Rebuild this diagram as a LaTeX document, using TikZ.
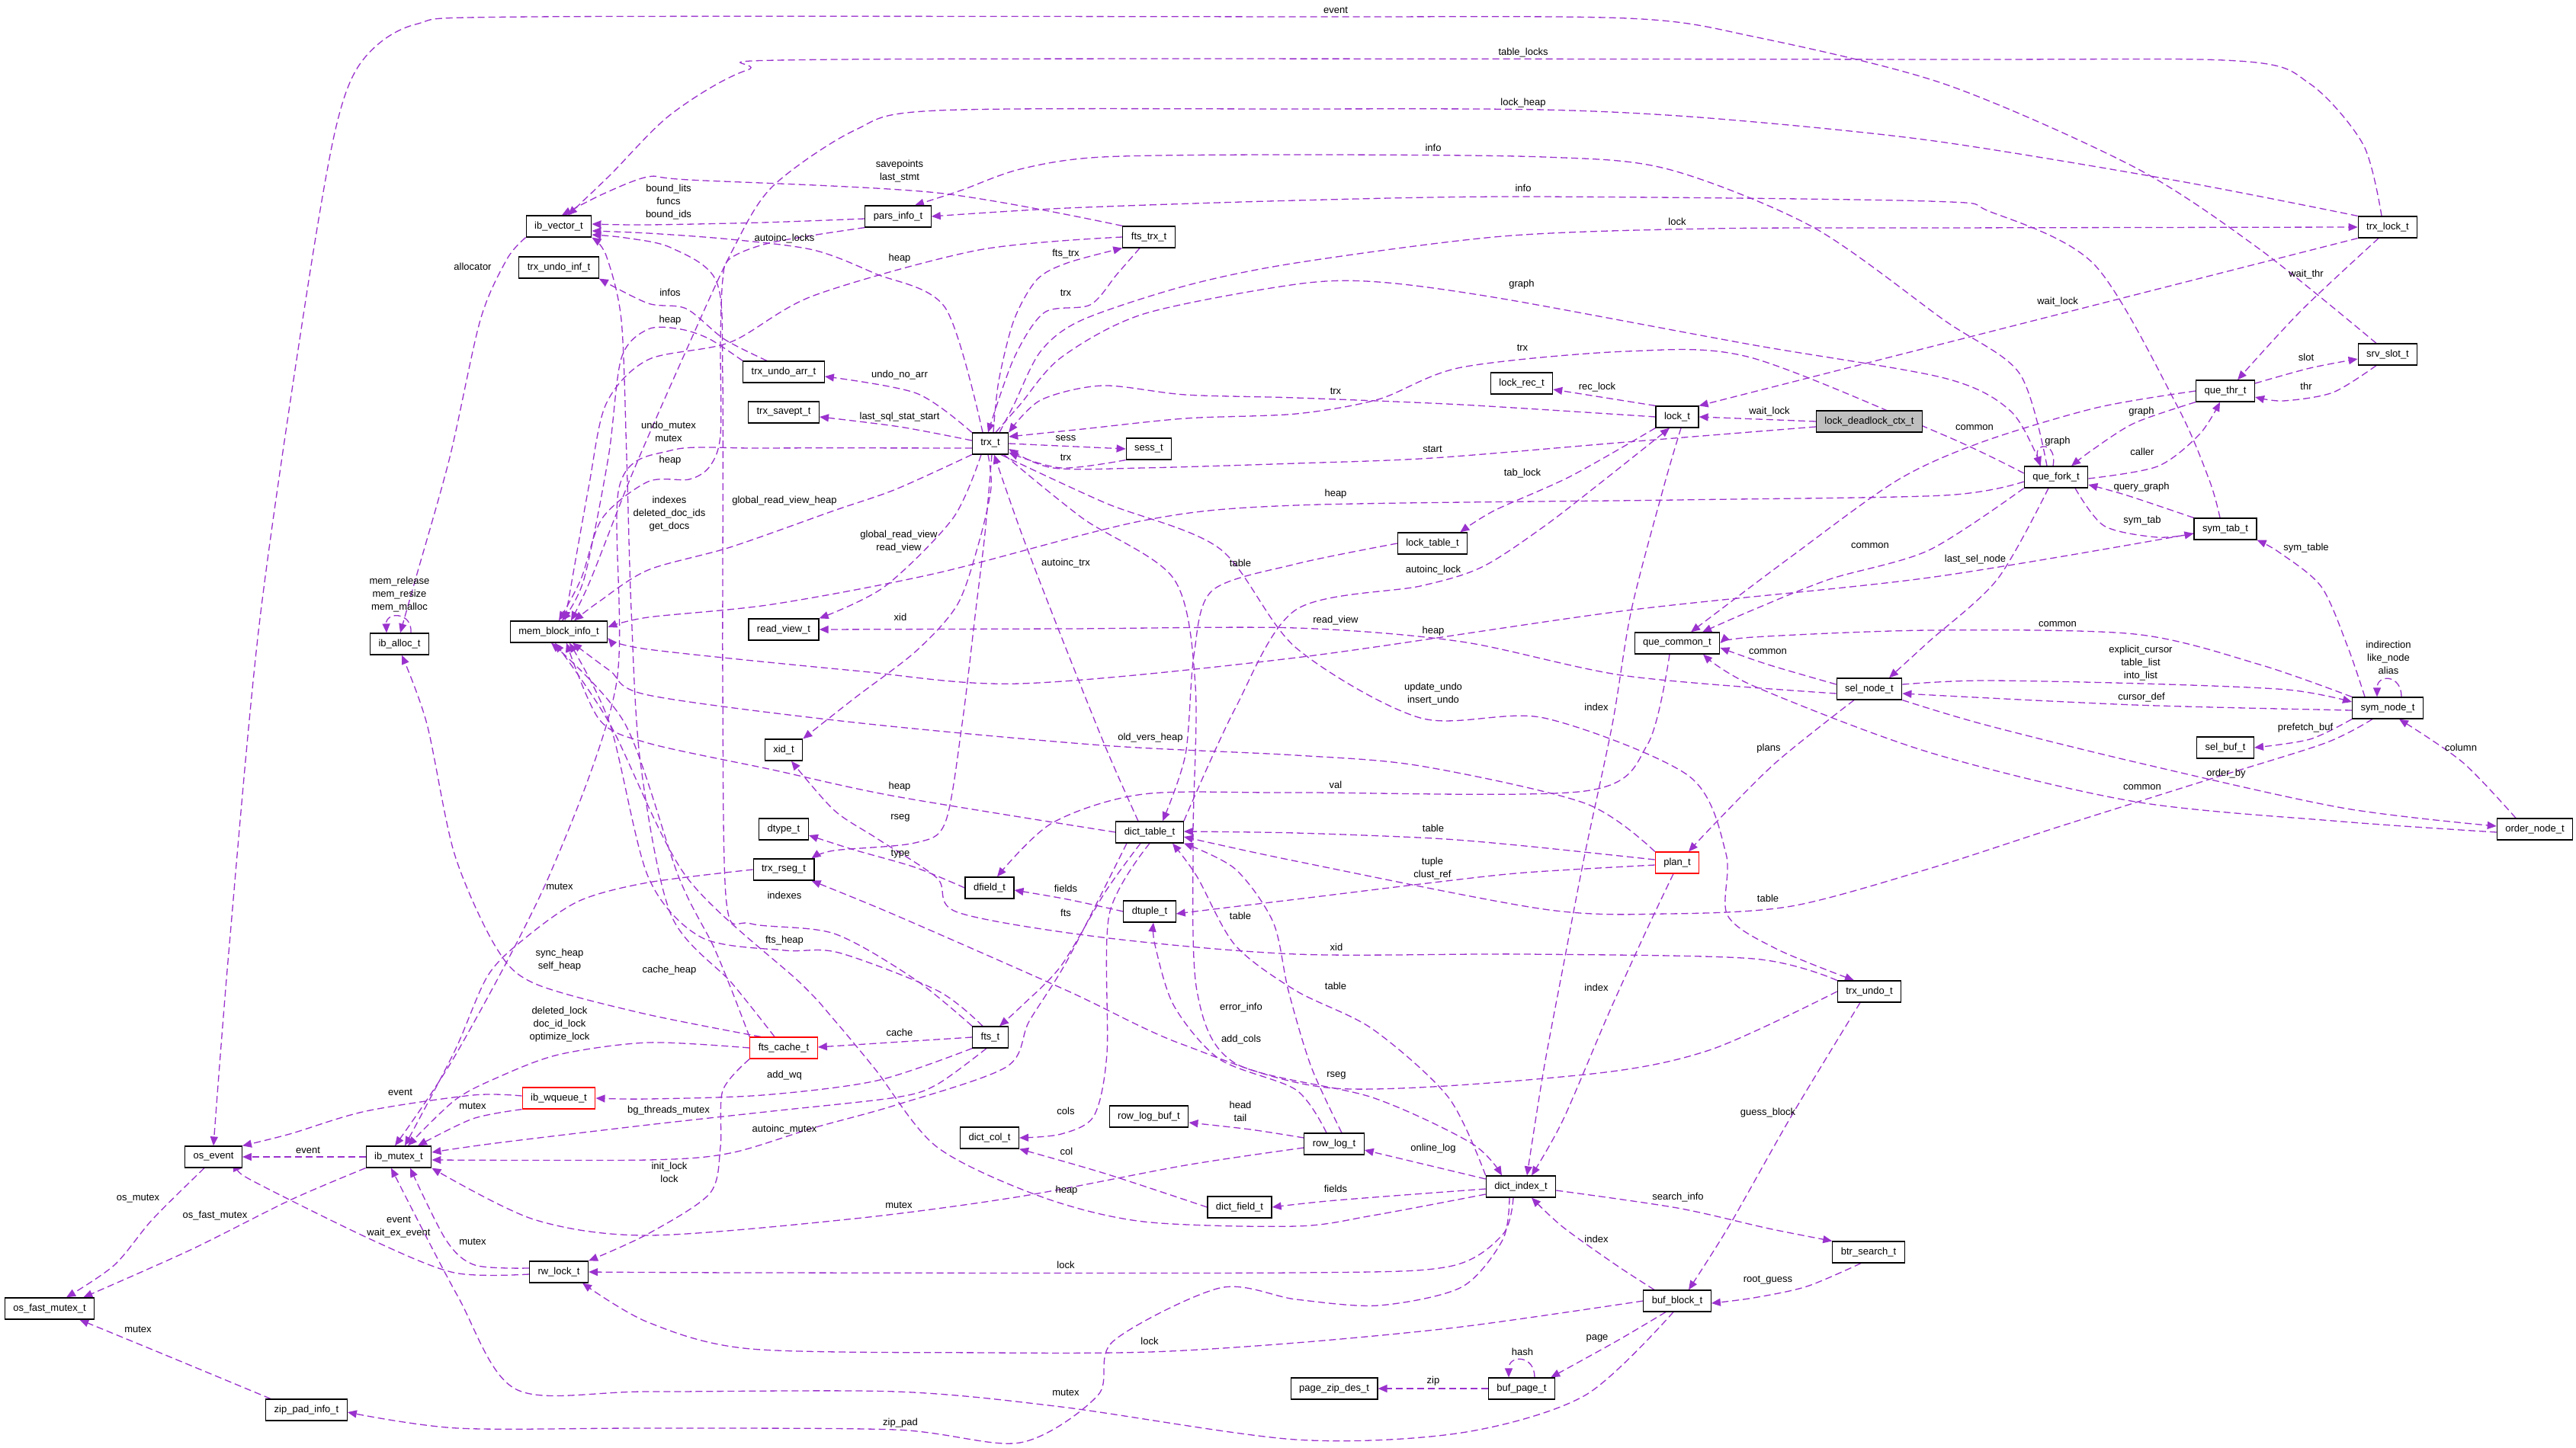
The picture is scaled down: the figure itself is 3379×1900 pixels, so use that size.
\documentclass[tikz,border=0pt]{standalone}
\usepackage{fontspec}
\setmainfont{Liberation Sans}
\usetikzlibrary{arrows.meta}
\definecolor{ep}{HTML}{9A32CD}
\newcommand\dfont{\fontsize{13pt}{17pt}\selectfont}
\pgfdeclarelayer{bg}
\pgfsetlayers{bg,main}
\begin{document}
\begin{tikzpicture}[x=1pt,y=-1pt,
  box/.style={draw=black, line width=1.2pt, fill=white, inner xsep=11pt, inner ysep=0pt, minimum height=28pt, font=\dfont},
  redbox/.style={box, draw=red},
  graybox/.style={box, fill=black!25},
  lbl/.style={font=\dfont, inner sep=0pt, align=center},
  e/.style={draw=ep, line width=1.3pt, dash pattern=on 9pt off 5pt, -{Triangle[length=12pt,width=10pt]}}]
\useasboundingbox (0,0) rectangle (3379,1900);
% ---------------- nodes ----------------
\node[box] (vec) at (733,297) {ib\_vector\_t};
\node[box] (uinf) at (733,351) {trx\_undo\_inf\_t};
\node[box] (alloc) at (524,845) {ib\_alloc\_t};
\node[box] (mbi) at (733,829) {mem\_block\_info\_t};
\node[box] (pars) at (1178,284) {pars\_info\_t};
\node[box] (ftstrx) at (1507,311) {fts\_trx\_t};
\node[box] (uarr) at (1028,488) {trx\_undo\_arr\_t};
\node[box] (savept) at (1028,541) {trx\_savept\_t};
\node[box] (trx) at (1299,582) {trx\_t};
\node[box] (sess) at (1507,589) {sess\_t};
\node[box] (lrec) at (1996,503) {lock\_rec\_t};
\node[box] (lock) at (2200,547) {lock\_t};
\node[graybox] (ldc) at (2452,553) {lock\_deadlock\_ctx\_t};
\node[box] (tlock) at (3132,298) {trx\_lock\_t};
\node[box] (slot) at (3132,465) {srv\_slot\_t};
\node[box] (qthr) at (2919,513) {que\_thr\_t};
\node[box] (qfork) at (2697,626) {que\_fork\_t};
\node[box] (ltab) at (1879,713) {lock\_table\_t};
\node[box] (qcom) at (2200,844) {que\_common\_t};
\node[box] (sel) at (2452,904) {sel\_node\_t};
\node[redbox] (plan) at (2200,1132) {plan\_t};
\node[box] (symtab) at (2919,694) {sym\_tab\_t};
\node[box] (symnode) at (3132,929) {sym\_node\_t};
\node[box] (selbuf) at (2919,981) {sel\_buf\_t};
\node[box] (order) at (3325,1088) {order\_node\_t};
\node[box] (rview) at (1028,826) {read\_view\_t};
\node[box] (xid) at (1028,984) {xid\_t};
\node[box] (dtype) at (1028,1088) {dtype\_t};
\node[box] (rseg) at (1028,1141) {trx\_rseg\_t};
\node[box] (dfield) at (1298,1165) {dfield\_t};
\node[box] (dtable) at (1508,1092) {dict\_table\_t};
\node[box] (dtuple) at (1508,1196) {dtuple\_t};
\node[box] (osev) at (280,1518) {os\_event};
\node[box] (mutex) at (523,1518) {ib\_mutex\_t};
\node[redbox] (wq) at (733,1441) {ib\_wqueue\_t};
\node[box] (osfm) at (65,1717) {os\_fast\_mutex\_t};
\node[box] (rw) at (733,1669) {rw\_lock\_t};
\node[box] (zpi) at (402,1850) {zip\_pad\_info\_t};
\node[redbox] (fcache) at (1028,1375) {fts\_cache\_t};
\node[box] (fts) at (1299,1361) {fts\_t};
\node[box] (dcol) at (1298,1493) {dict\_col\_t};
\node[box] (rlbuf) at (1507,1465) {row\_log\_buf\_t};
\node[box] (dfld) at (1626,1584) {dict\_field\_t};
\node[box] (undo) at (2452,1301) {trx\_undo\_t};
\node[box] (rlog) at (1750,1501) {row\_log\_t};
\node[box] (dindex) at (1995,1557) {dict\_index\_t};
\node[box] (btr) at (2451,1643) {btr\_search\_t};
\node[box] (block) at (2200,1707) {buf\_block\_t};
\node[box] (pzd) at (1750,1822) {page\_zip\_des\_t};
\node[box] (bpage) at (1996,1822) {buf\_page\_t};
% ---------------- labels ----------------
\node[lbl] (l1) at (1752,13) {event};
\node[lbl] (l2) at (1998,69) {table\_locks};
\node[lbl] (l3) at (1998,135) {lock\_heap};
\node[lbl] (l4) at (1880,194) {info};
\node[lbl] (l5) at (1180,225) {savepoints\\last\_stmt};
\node[lbl] (l6) at (1998,247) {info};
\node[lbl] (l7) at (877,265) {bound\_lits\\funcs\\bound\_ids};
\node[lbl] (l8) at (2200,291) {lock};
\node[lbl] (l9) at (1029,313) {autoinc\_locks};
\node[lbl] (l10) at (1180,339) {heap};
\node[lbl] (l11) at (1398,333) {fts\_trx};
\node[lbl] (l12) at (620,350) {allocator};
\node[lbl] (l13) at (3025,360) {wait\_thr};
\node[lbl] (l14) at (1996,373) {graph};
\node[lbl] (l15) at (879,384) {infos};
\node[lbl] (l16) at (1398,384) {trx};
\node[lbl] (l17) at (2699,396) {wait\_lock};
\node[lbl] (l18) at (879,420) {heap};
\node[lbl] (l19) at (1997,456) {trx};
\node[lbl] (l20) at (3025,469) {slot};
\node[lbl] (l21) at (1180,492) {undo\_no\_arr};
\node[lbl] (l22) at (3025,507) {thr};
\node[lbl] (l23) at (2095,508) {rec\_lock};
\node[lbl] (l24) at (1752,513) {trx};
\node[lbl] (l25) at (2809,540) {graph};
\node[lbl] (l26) at (2321,540) {wait\_lock};
\node[lbl] (l27) at (1180,547) {last\_sql\_stat\_start};
\node[lbl] (l28) at (877,566) {undo\_mutex\\mutex};
\node[lbl] (l29) at (2590,561) {common};
\node[lbl] (l30) at (1398,575) {sess};
\node[lbl] (l31) at (2699,579) {graph};
\node[lbl] (l32) at (1879,589) {start};
\node[lbl] (l33) at (2810,593) {caller};
\node[lbl] (l34) at (1398,600) {trx};
\node[lbl] (l35) at (879,604) {heap};
\node[lbl] (l36) at (1997,621) {tab\_lock};
\node[lbl] (l37) at (2809,639) {query\_graph};
\node[lbl] (l38) at (878,674) {indexes\\deleted\_doc\_ids\\get\_docs};
\node[lbl] (l39) at (1029,657) {global\_read\_view\_heap};
\node[lbl] (l40) at (1752,648) {heap};
\node[lbl] (l41) at (1179,711) {global\_read\_view\\read\_view};
\node[lbl] (l42) at (2810,683) {sym\_tab};
\node[lbl] (l43) at (2453,716) {common};
\node[lbl] (l44) at (3025,719) {sym\_table};
\node[lbl] (l45) at (2591,734) {last\_sel\_node};
\node[lbl] (l46) at (1398,739) {autoinc\_trx};
\node[lbl] (l47) at (1627,739) {table};
\node[lbl] (l48) at (1880,748) {autoinc\_lock};
\node[lbl] (l49) at (524,780) {mem\_release\\mem\_resize\\mem\_malloc};
\node[lbl] (l50) at (1181,810) {xid};
\node[lbl] (l51) at (1752,814) {read\_view};
\node[lbl] (l52) at (2699,819) {common};
\node[lbl] (l53) at (1880,828) {heap};
\node[lbl] (l54) at (2808,870) {explicit\_cursor\\table\_list\\into\_list};
\node[lbl] (l55) at (2319,855) {common};
\node[lbl] (l56) at (3133,863) {indirection\\like\_node\\alias};
\node[lbl] (l57) at (1880,911) {update\_undo\\insert\_undo};
\node[lbl] (l58) at (2809,915) {cursor\_def};
\node[lbl] (l59) at (2094,928) {index};
\node[lbl] (l60) at (3024,955) {prefetch\_buf};
\node[lbl] (l61) at (1509,968) {old\_vers\_heap};
\node[lbl] (l62) at (3228,981) {column};
\node[lbl] (l63) at (2320,982) {plans};
\node[lbl] (l64) at (2920,1015) {order\_by};
\node[lbl] (l65) at (1752,1030) {val};
\node[lbl] (l66) at (1180,1032) {heap};
\node[lbl] (l67) at (2810,1033) {common};
\node[lbl] (l68) at (1181,1073) {rseg};
\node[lbl] (l69) at (1880,1087) {table};
\node[lbl] (l70) at (1181,1121) {type};
\node[lbl] (l71) at (1879,1140) {tuple\\clust\_ref};
\node[lbl] (l72) at (734,1163) {mutex};
\node[lbl] (l73) at (1398,1166) {fields};
\node[lbl] (l74) at (1029,1175) {indexes};
\node[lbl] (l75) at (2319,1179) {table};
\node[lbl] (l76) at (1398,1198) {fts};
\node[lbl] (l77) at (1627,1202) {table};
\node[lbl] (l78) at (1029,1234) {fts\_heap};
\node[lbl] (l79) at (1753,1243) {xid};
\node[lbl] (l80) at (734,1260) {sync\_heap\\self\_heap};
\node[lbl] (l81) at (878,1273) {cache\_heap};
\node[lbl] (l82) at (1752,1294) {table};
\node[lbl] (l83) at (2094,1296) {index};
\node[lbl] (l84) at (1628,1322) {error\_info};
\node[lbl] (l85) at (734,1344) {deleted\_lock\\doc\_id\_lock\\optimize\_lock};
\node[lbl] (l86) at (1180,1355) {cache};
\node[lbl] (l87) at (1628,1364) {add\_cols};
\node[lbl] (l88) at (1029,1411) {add\_wq};
\node[lbl] (l89) at (1753,1411) {rseg};
\node[lbl] (l90) at (525,1433) {event};
\node[lbl] (l91) at (620,1451) {mutex};
\node[lbl] (l92) at (1627,1458) {head\\tail};
\node[lbl] (l93) at (877,1457) {bg\_threads\_mutex};
\node[lbl] (l94) at (1398,1458) {cols};
\node[lbl] (l95) at (2319,1460) {guess\_block};
\node[lbl] (l96) at (1029,1482) {autoinc\_mutex};
\node[lbl] (l97) at (1880,1507) {online\_log};
\node[lbl] (l98) at (404,1509) {event};
\node[lbl] (l99) at (1399,1511) {col};
\node[lbl] (l100) at (878,1538) {init\_lock\\lock};
\node[lbl] (l101) at (1752,1560) {fields};
\node[lbl] (l102) at (1399,1562) {heap};
\node[lbl] (l103) at (2201,1571) {search\_info};
\node[lbl] (l104) at (181,1573) {os\_mutex};
\node[lbl] (l105) at (1179,1581) {mutex};
\node[lbl] (l106) at (282,1595) {os\_fast\_mutex};
\node[lbl] (l107) at (523,1610) {event\\wait\_ex\_event};
\node[lbl] (l108) at (2094,1626) {index};
\node[lbl] (l109) at (620,1629) {mutex};
\node[lbl] (l110) at (1398,1660) {lock};
\node[lbl] (l111) at (2319,1680) {root\_guess};
\node[lbl] (l112) at (181,1744) {mutex};
\node[lbl] (l113) at (2095,1756) {page};
\node[lbl] (l114) at (1508,1760) {lock};
\node[lbl] (l115) at (1997,1774) {hash};
\node[lbl] (l116) at (1880,1812) {zip};
\node[lbl] (l117) at (1398,1827) {mutex};
\node[lbl] (l118) at (1181,1867) {zip\_pad};
% ---------------- edges ----------------
\begin{pgfonlayer}{bg}
\fill[white] (0,0) rectangle (3379,1900);
\draw[e] plot[smooth] coordinates {([xshift=-15pt]slot.north) (2964,327) (2801,220) (2550,110) (2300,48) (2134,24) (1700,22) (700,22) (545,32) (475,80) (440,170) (400,400) (340,820) (300,1250) (osev.north)};
\draw[e] plot[smooth] coordinates {([xshift=-8pt]tlock.north) (3100,190) (3030,110) (2936,80) (2530,78) (1100,78) (980,92) (880,150) (800,230) ([xshift=12pt]vec.north)};
\draw[e] plot[smooth] coordinates {(tlock.north west) (2855,237) (2530,184) (2242,155) (2025,144) (1700,143) (1229,145) (1121,171) (1013,245) (960,330) (900,460) (830,620) (775,760) ([xshift=16pt]mbi.north)};
\draw[e] plot[smooth] coordinates {([xshift=-12pt]qfork.north) (2649,490) (2550,420) (2378,298) (2188,222) (2025,206) (1700,203) (1446,206) (1338,222) (1260,250) ([xshift=22pt]pars.north)};
\draw[e] plot[smooth] coordinates {([xshift=-7pt]symtab.north) (2898,630) (2855,531) (2747,347) (2611,278) (2530,264) (2000,258) (1700,263) (1400,273) (pars.east)};
\draw[e] plot[smooth] coordinates {([yshift=-3pt]pars.west) (1000,292) (850,295) ([yshift=3pt]vec.east)};
\draw[e] plot[smooth] coordinates {(ftstrx.north west) (1229,253) (904,236) (850,232) (790,255) ([xshift=4pt]vec.north)};
\draw[e] plot[smooth] coordinates {([xshift=12pt]trx.north) (1330,531) (1365,461) (1419,420) (1555,375) (1700,345) (1971,310) (2242,300) (2550,299) (tlock.west)};
\draw[e] plot[smooth] coordinates {([xshift=-10pt]trx.north) (1240,404) (1148,359) (1067,328) (958,314) (850,306) ([yshift=-6pt]vec.east)};
\draw[e] plot[smooth] coordinates {(ftstrx.west) (1284,328) (1067,388) (958,449) (850,472) (795,530) (772,640) ([xshift=8pt]mbi.north)};
\draw[e] plot[smooth] coordinates {([xshift=4pt]trx.north) (1310,500) (1330,420) (1360,367) (1400,345) (ftstrx.south west)};
\draw[e] plot[smooth] coordinates {([xshift=-12pt]ftstrx.south) (1465,360) (1430,400) (1370,410) (1330,470) ([xshift=-3pt]trx.north)};
\draw[e] plot[smooth] coordinates {([xshift=7pt]trx.north) (1338,531) (1392,469) (1500,412) (1700,373) (1808,370) (1971,392) (2296,452) (2550,496) (2638,540) ([xshift=-20pt]qfork.north)};
\draw[e] plot[smooth] coordinates {([xshift=-12pt]tlock.south) (3018,408) ([xshift=16pt]qthr.north)};
\draw[e] (tlock.south west) -- (lock.north east);
\draw[e] plot[smooth] coordinates {([xshift=-22pt]uarr.north) (950,445) (900,405) (850,398) (uinf.south east)};
\draw[e] plot[smooth] coordinates {(uarr.north west) (931,445) (893,432) (850,432) (815,470) (798,600) (766,760) ([xshift=4pt]mbi.north)};
\draw[e] plot[smooth] coordinates {(pars.south west) (1013,318) (958,339) (948,367) (945,449) (945,571) (931,612) (904,629) (850,632) (790,680) (762,760) (mbi.north)};
\draw[e] plot[smooth] coordinates {([yshift=5pt]qfork.west) (2550,571) (2296,469) (2134,461) (1917,482) (1808,524) (1700,543) (1555,549) (1420,563) ([yshift=9pt]trx.east)};
\draw[e] plot[smooth] coordinates {([yshift=10pt]qthr.east) (3030,483) ([yshift=-6pt]slot.west)};
\draw[e] plot[smooth] coordinates {([xshift=-15pt]slot.south) (3060,515) (2995,526) ([yshift=-8pt]qthr.east)};
\draw[e] plot[smooth] coordinates {(trx.north west) (1202,516) ([yshift=-6pt]uarr.east)};
\draw[e] (lock.north west) -- ([yshift=-8pt]lrec.east);
\draw[e] plot[smooth] coordinates {(lock.west) (1917,531) (1700,522) (1555,518) (1446,506) (1365,525) (trx.north east)};
\draw[e] plot[smooth] coordinates {(qthr.south west) (2800,555) (2745,590) ([xshift=20pt]qfork.north)};
\draw[e] (ldc.west) -- (lock.east);
\draw[e] plot[smooth] coordinates {([yshift=4pt]trx.west) (1180,560) ([yshift=-6pt]savept.east)};
\draw[e] plot[smooth] coordinates {([yshift=-6pt]trx.west) (1000,588) (880,591) (812,640) (808,900) (720,1150) (600,1380) ([xshift=-5pt]mutex.north)};
\draw[e] plot[smooth] coordinates {(qthr.west) (2750,535) (2600,580) (2489,630) (2350,730) ([xshift=18pt]qcom.north)};
\draw[e] (trx.east) -- (sess.west);
\draw[e] ([xshift=-4pt]qfork.north) .. controls ([xshift=2pt,yshift=32pt]qfork.north) and ([xshift=-30pt,yshift=32pt]qfork.north) .. ([xshift=-21pt]qfork.north);
\draw[e] plot[smooth] coordinates {([yshift=-7pt]ldc.west) (2134,580) (1879,601) (1700,608) (1500,614) (1381,614) ([yshift=-7pt]trx.east)};
\draw[e] plot[smooth] coordinates {([yshift=-2pt]qfork.east) (2830,612) (2885,570) ([xshift=-7pt]qthr.south)};
\draw[e] plot[smooth] coordinates {(sess.south west) (1392,614) ([yshift=-12pt]trx.east)};
\draw[e] plot[smooth] coordinates {(lock.south west) (2060,625) (1960,670) ([xshift=-10pt]ltab.north east)};
\draw[e] plot[smooth] coordinates {(symtab.north west) (2790,650) ([yshift=-10pt]qfork.east)};
\draw[e] plot[smooth] coordinates {([xshift=-12pt]fcache.north) (960,1290) (880,1200) (840,1000) (828,800) (822,600) (815,420) (795,335) (vec.south east)};
\draw[e] plot[smooth] coordinates {(trx.south west) (1175,642) (1094,670) (958,718) (850,748) (785,790) ([xshift=20pt]mbi.north)};
\draw[e] plot[smooth] coordinates {([yshift=-6pt]qfork.west) (2550,650) (2200,656) (1700,663) (1500,683) (1229,752) (1013,793) (850,810) ([yshift=6pt]mbi.east)};
\draw[e] plot[smooth] coordinates {([xshift=-12pt]trx.south) (1250,680) (1160,770) (rview.north east)};
\draw[e] plot[smooth] coordinates {(qfork.south west) (2530,722) (2400,760) (2300,800) ([xshift=33pt]qcom.north)};
\draw[e] plot[smooth] coordinates {([xshift=25pt]qfork.south) (2760,690) (2830,705) ([yshift=-6pt]symtab.west)};
\draw[e] plot[smooth] coordinates {([xshift=-30pt]symnode.north) (3080,850) (3045,770) (2990,725) (symtab.south east)};
\draw[e] plot[smooth] coordinates {([xshift=-10pt]qfork.south) (2620,760) (2530,842) ([xshift=26pt]sel.north)};
\draw[e] plot[smooth] coordinates {([xshift=-15pt]dtable.north) (1450,980) (1390,830) (1340,700) ([xshift=5pt]trx.south)};
\draw[e] plot[smooth] coordinates {(ltab.west) (1700,740) (1590,775) (1566,860) (1555,990) ([xshift=17pt]dtable.north)};
\draw[e] plot[smooth] coordinates {(dtable.north east) (1620,930) (1700,800) (1863,769) (1944,744) (2025,691) (2104,630) ([xshift=-10pt]lock.south)};
\draw[e] plot[smooth] coordinates {([xshift=-3pt]trx.south) (1300,640) (1284,712) (1256,793) (1202,854) (1121,916) (xid.north east)};
\draw[e] plot[smooth] coordinates {([yshift=-6pt]sel.west) (2134,887) (1917,842) (1700,824) (1400,825) (rview.east)};
\draw[e] plot[smooth] coordinates {(symnode.north west) (2964,872) (2800,832) (2530,827) (2300,836) (qcom.east)};
\draw[e] plot[smooth] coordinates {([yshift=-6pt]symtab.west) (2530,758) (2134,801) (1700,863) (1338,897) (1121,880) (850,852) ([yshift=-8pt]mbi.east)};
\draw[e] plot[smooth] coordinates {([yshift=6pt]sel.east) (2600,893) (2810,897) (3000,905) ([yshift=8pt]symnode.west)};
\draw[e] plot[smooth] coordinates {([yshift=6pt]sel.west) (2319,872) ([yshift=-6pt]qcom.east)};
\draw[e] ([xshift=18pt]symnode.north) .. controls ([xshift=18pt,yshift=30pt]symnode.north) and ([xshift=-14pt,yshift=30pt]symnode.north) .. ([xshift=-14pt]symnode.north);
\draw[e] plot[smooth] coordinates {([xshift=14pt]trx.south) (1450,660) (1600,720) (1700,850) (1863,942) (2025,942) (2215,1018) (2264,1120) (2266,1201) (2330,1245) ([xshift=-20pt]undo.north)};
\draw[e] plot[smooth] coordinates {([yshift=-3pt]symnode.west) (2800,925) ([yshift=-6pt]sel.east)};
\draw[e] plot[smooth] coordinates {([xshift=5pt]lock.south) (2182,640) (2140,800) (2115,950) (2079,1120) (2052,1260) (2025,1403) ([xshift=8pt]dindex.north)};
\draw[e] plot[smooth] coordinates {(symnode.south west) (3030,970) (selbuf.east)};
\draw[e] plot[smooth] coordinates {(plan.north west) (2079,1054) (1863,1005) (1700,991) (1446,978) (1121,948) (850,912) (800,880) ([xshift=18pt]mbi.south)};
\draw[e] plot[smooth] coordinates {([xshift=-25pt]order.north) (3230,1000) ([xshift=15pt]symnode.south)};
\draw[e] plot[smooth] coordinates {([xshift=-20pt]sel.south) (2330,1000) (2250,1080) ([xshift=15pt]plan.north)};
\draw[e] plot[smooth] coordinates {(sel.south east) (2600,950) (2801,1000) (3072,1060) ([yshift=4pt]order.west)};
\draw[e] plot[smooth] coordinates {([xshift=-10pt]qcom.south) (2161,977) (2079,1038) (1700,1040) (1500,1042) (1380,1080) ([xshift=10pt]dfield.north)};
\draw[e] plot[smooth] coordinates {(dtable.west) (1175,1045) (1013,1010) (850,975) (786,944) ([xshift=10pt]mbi.south)};
\draw[e] plot[smooth] coordinates {([yshift=-4pt]order.west) (3072,1078) (2801,1052) (2530,987) (2300,900) ([xshift=34pt]qcom.south)};
\draw[e] plot[smooth] coordinates {([xshift=2pt]trx.south) (1292,700) (1280,800) (1262,950) (1240,1079) (1200,1106) (1094,1116) ([xshift=-4pt]rseg.north east)};
\draw[e] plot[smooth] coordinates {([yshift=4pt]plan.west) (2000,1110) (1880,1100) (1700,1093) ([yshift=1pt]dtable.east)};
\draw[e] plot[smooth] coordinates {(dfield.west) (1200,1138) (1120,1115) ([yshift=-8pt]dtype.east)};
\draw[e] plot[smooth] coordinates {([yshift=-3pt]plan.west) (2000,1145) (1880,1158) (1700,1180) (1600,1192) ([yshift=-3pt]dtuple.east)};
\draw[e] plot[smooth] coordinates {(rseg.west) (850,1158) (760,1182) (690,1230) (640,1280) (596,1380) ([xshift=8pt]mutex.north)};
\draw[e] plot[smooth] coordinates {(fts.north west) (1200,1285) (1094,1225) (985,1212) (953,1185) (948,900) (948,500) (940,370) (880,325) (820,312) ([yshift=-11pt]vec.east)};
\draw[e] plot[smooth] coordinates {(dtuple.west) (1400,1180) ([yshift=-3pt]dfield.east)};
\draw[e] plot[smooth] coordinates {([xshift=-12pt]dtable.south) (1450,1170) (1392,1267) (1340,1320) ([xshift=12pt]fts.north)};
\draw[e] plot[smooth] coordinates {([xshift=10pt]rlog.north) (1720,1400) (1690,1300) (1670,1210) (1620,1140) (dtable.south east)};
\draw[e] plot[smooth] coordinates {([xshift=-20pt]symnode.south) (3050,975) (2900,1022) (2700,1085) (2530,1140) (2350,1189) (2188,1199) (2025,1193) (1700,1130) ([yshift=-6pt]dtable.east)};
\draw[e] plot[smooth] coordinates {(undo.north west) (2300,1258) (2000,1252) (1700,1252) (1446,1230) (1256,1197) (1229,1152) (1150,1100) (1094,1063) ([xshift=10pt]xid.south)};
\draw[e] plot[smooth] coordinates {([xshift=-10pt]fts.north) (1230,1300) (1100,1250) (1029,1247) (920,1230) (850,1150) (800,950) ([xshift=14pt]mbi.south)};
\draw[e] plot[smooth] coordinates {([xshift=-30pt]fcache.north) (840,1329) (700,1290) (650,1242) (596,1120) (560,950) ([xshift=3pt]alloc.south)};
\draw[e] plot[smooth] coordinates {(fcache.north west) (960,1300) (935,1240) (890,1150) (820,950) ([xshift=-10pt]mbi.south)};
\draw[e] plot[smooth] coordinates {(dindex.north west) (1900,1440) (1800,1350) (1700,1300) (1620,1240) (1570,1150) ([xshift=30pt]dtable.south)};
\draw[e] plot[smooth] coordinates {([xshift=-5pt]plan.south) (2160,1220) (2110,1330) (2050,1470) ([xshift=14pt]dindex.north)};
\draw[e] plot[smooth] coordinates {([xshift=18pt]trx.south) (1420,680) (1540,760) (1568,900) (1565,1100) (1570,1300) (1620,1395) (1800,1440) (1930,1500) ([xshift=-25pt]dindex.north)};
\draw[e] plot[smooth] coordinates {(fcache.west) (850,1368) (732,1384) (650,1415) (596,1444) ([xshift=12pt]mutex.north)};
\draw[e] plot[smooth] coordinates {([xshift=-10pt]rlog.north) (1700,1430) (1600,1390) (1540,1320) (1515,1240) ([xshift=5pt]dtuple.south)};
\draw[e] (fts.west) -- ([yshift=1pt]fcache.east);
\draw[e] plot[smooth] coordinates {(undo.west) (2242,1378) (2079,1410) (1750,1428) (1550,1370) (1400,1300) (1175,1201) ([xshift=-4pt]rseg.south east)};
\draw[e] plot[smooth] coordinates {(fts.south west) (1150,1418) (1000,1437) (850,1442) (wq.east)};
\draw[e] plot[smooth] coordinates {([yshift=3pt]wq.west) (620,1437) (480,1458) (380,1488) (osev.north east)};
\draw[e] plot[smooth] coordinates {(wq.south west) (620,1468) ([xshift=25pt]mutex.north)};
\draw[e] plot[smooth] coordinates {([yshift=8pt]rlog.west) (1640,1482) ([yshift=-8pt]rlbuf.east)};
\draw[e] plot[smooth] coordinates {([xshift=-5pt]fts.south) (1229,1423) (1175,1440) (1013,1458) (850,1476) (650,1500) ([yshift=6pt]mutex.east)};
\draw[e] plot[smooth] coordinates {(dtable.south) (1455,1200) (1452,1382) (1435,1464) (1392,1488) (dcol.east)};
\draw[e] plot[smooth] coordinates {([xshift=-12pt]undo.south) (2350,1464) (2269,1607) ([xshift=15pt]block.north)};
\draw[e] plot[smooth] coordinates {([xshift=-30pt]dtable.south) (1400,1260) (1350,1340) (1320,1400) (1175,1450) (1067,1480) (958,1513) (850,1522) ([yshift=-4pt]mutex.east)};
\draw[e] ([yshift=10pt]dindex.west) -- ([yshift=-8pt]rlog.east);
\draw[e] (mutex.west) -- (osev.east);
\draw[e] plot[smooth] coordinates {(dfld.west) (1450,1540) (dcol.south east)};
\draw[e] plot[smooth] coordinates {(fcache.south west) (948,1431) (945,1505) (931,1566) (850,1619) (rw.north east)};
\draw[e] plot[smooth] coordinates {([yshift=-3pt]dindex.west) (1752,1575) (dfld.east)};
\draw[e] plot[smooth] coordinates {([yshift=-10pt]dindex.west) (1800,1595) (1700,1609) (1500,1603) (1365,1570) (1229,1505) (1148,1403) (1094,1338) (1050,1290) (900,1150) (800,950) ([xshift=-5pt]mbi.south)};
\draw[e] plot[smooth] coordinates {([yshift=-5pt]dindex.east) (2200,1585) (2320,1612) (btr.north west)};
\draw[e] plot[smooth] coordinates {([xshift=-12pt]osev.south) (200,1600) (150,1660) ([xshift=22pt]osfm.north)};
\draw[e] plot[smooth] coordinates {([yshift=-5pt]rlog.west) (1555,1529) (1338,1570) (1121,1599) (850,1621) (700,1600) (mutex.south east)};
\draw[e] plot[smooth] coordinates {(mutex.south west) (380,1575) (250,1640) ([xshift=-15pt]osfm.north east)};
\draw[e] plot[smooth] coordinates {([yshift=-3pt]rw.west) (596,1670) (488,1627) (325,1546) (osev.south east)};
\draw[e] plot[smooth] coordinates {([yshift=5pt]rw.west) (623,1660) (585,1627) ([xshift=15pt]mutex.south)};
\draw[e] plot[smooth] coordinates {([xshift=-30pt]block.north) (2120,1660) (2050,1610) ([xshift=14pt]dindex.south)};
\draw[e] plot[smooth] coordinates {([xshift=-10pt]dindex.south) (1971,1620) (1900,1662) (1700,1670) (1000,1670) (rw.east)};
\draw[e] plot[smooth] coordinates {([xshift=-10pt]btr.south) (2370,1688) (2300,1703) ([yshift=-3pt]block.east)};
\draw[e] plot[smooth] coordinates {([xshift=-47pt]zpi.north) (217,1778) ([xshift=-20pt]osfm.south east)};
\draw[e] plot[smooth] coordinates {([xshift=-15pt]block.south) (2120,1760) ([xshift=-6pt]bpage.north east)};
\draw[e] plot[smooth] coordinates {(block.west) (1917,1741) (1700,1762) (1508,1774) (1300,1775) (985,1770) (850,1735) ([xshift=-8pt]rw.south east)};
\draw[e] ([xshift=17pt]bpage.north) .. controls ([xshift=17pt,yshift=30pt]bpage.north) and ([xshift=-17pt,yshift=30pt]bpage.north) .. ([xshift=-17pt]bpage.north);
\draw[e] (bpage.west) -- (pzd.east);
\draw[e] plot[smooth] coordinates {([xshift=-5pt]block.south) (2079,1831) (1917,1880) (1700,1889) (1392,1846) (1175,1826) (850,1826) (677,1823) (600,1700) ([xshift=-10pt]mutex.south)};
\draw[e] plot[smooth] coordinates {([xshift=-15pt]dindex.south) (1971,1627) (1917,1689) (1808,1713) (1700,1705) (1600,1690) (1460,1760) (1440,1831) (1338,1893) (1175,1876) (850,1874) (600,1874) ([yshift=-3pt]zpi.east)};
\draw[e] plot[smooth] coordinates {(vec.south west) (665,340) (630,420) (590,600) (545,760) ([xshift=1pt]alloc.north)};
\draw[e] ([xshift=15pt]alloc.north) .. controls ([xshift=17pt,yshift=28pt]alloc.north) and ([xshift=-18pt,yshift=28pt]alloc.north) .. ([xshift=-17pt]alloc.north);
\end{pgfonlayer}
\end{tikzpicture}
\end{document}
